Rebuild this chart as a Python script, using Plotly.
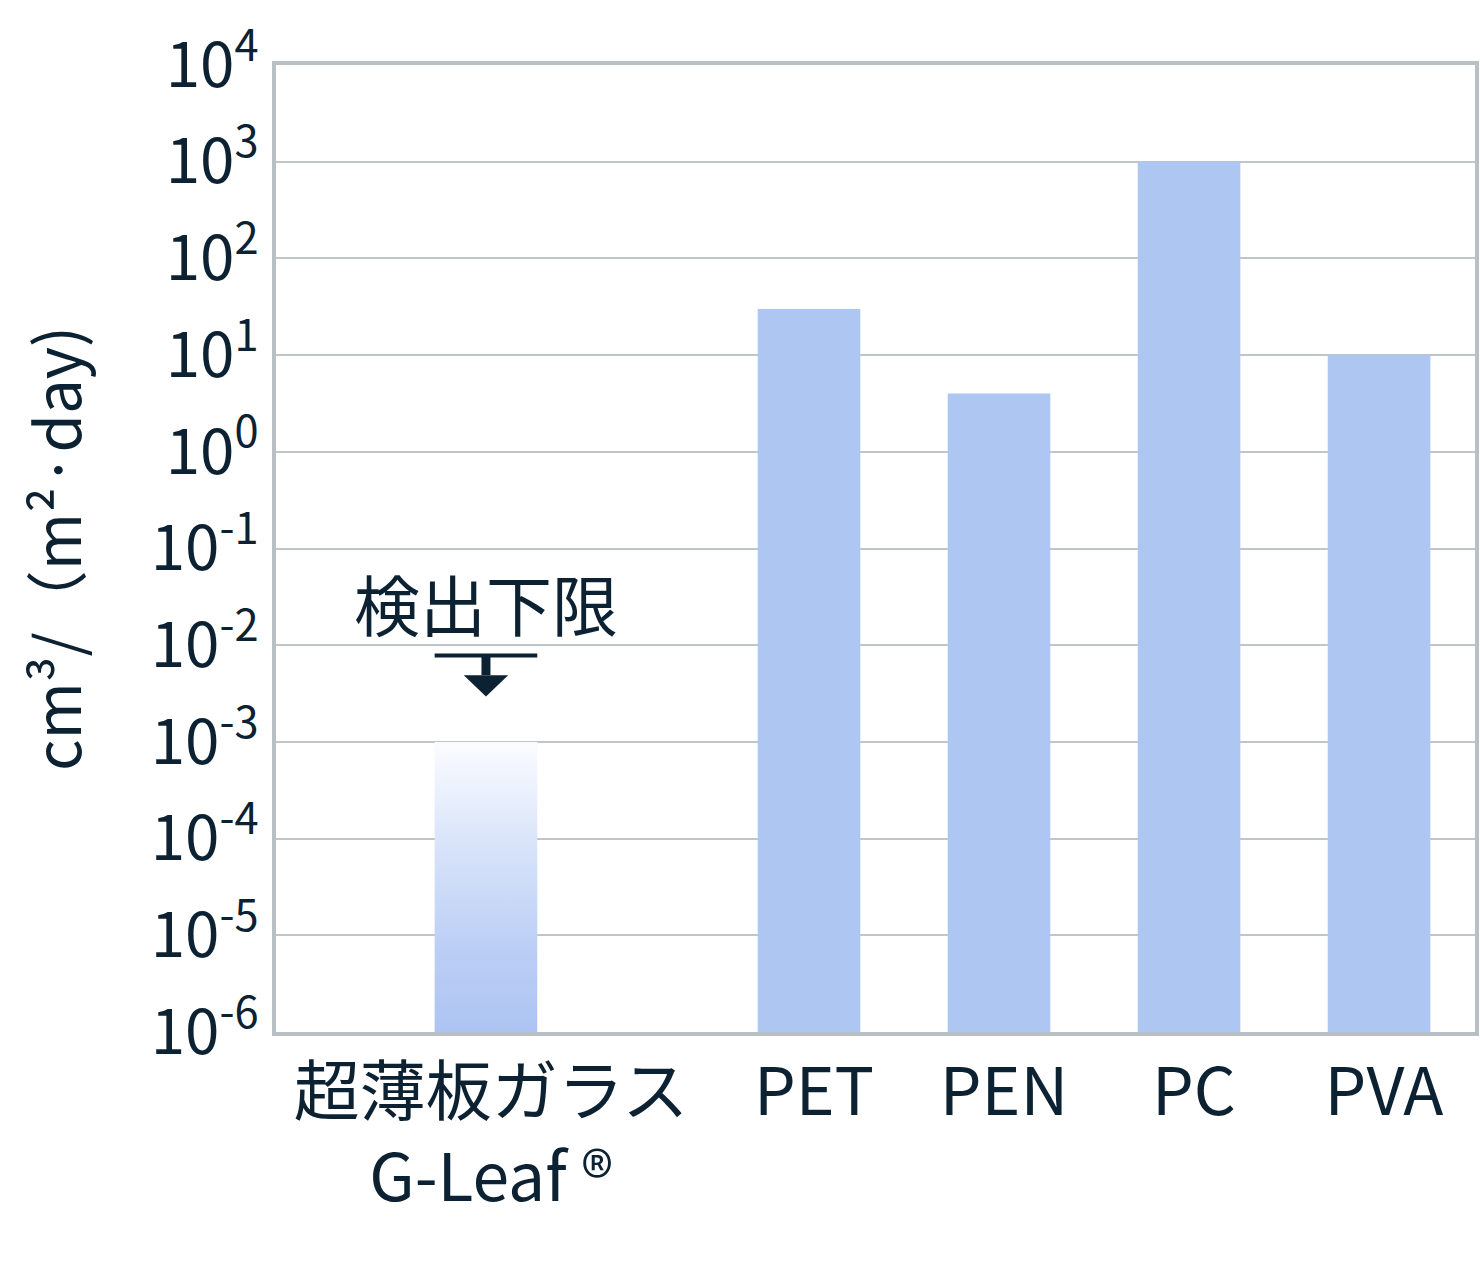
import plotly.graph_objects as go

# data
materials = ["超薄板ガラス<br>G-Leaf ®", "PET", "PEN", "PC", "PVA"]
rates = [None, 30, 4, 1000, 10]          # cm3/(m2·day); glass is below detection
glass_bar_top = 1e-3                     # faded bar for the glass
limit_label = "検出下限"
decades = list(range(-6, 5))

# layout helpers
x_pos = [1.3, 3, 4, 5, 6]
bar_w = 0.54
bar_color = "#aec6f2"
ink = "#0c2131"
grid_color = "#bfc6cb"
frame_color = "#b8bfc5"
font_family = "Noto Sans CJK JP"

fig = go.Figure()

# film bars
fig.add_trace(go.Bar(
    x=x_pos[1:], y=rates[1:], width=bar_w,
    marker=dict(color=bar_color, line=dict(width=0)),
    hoverinfo="skip", showlegend=False,
))

# glass bar, fading towards the top
px0 = x_pos[0]
fig.add_trace(go.Scatter(
    x=[px0 - bar_w / 2, px0 + bar_w / 2, px0 + bar_w / 2, px0 - bar_w / 2, px0 - bar_w / 2],
    y=[10.0 ** decades[0], 10.0 ** decades[0], glass_bar_top, glass_bar_top, 10.0 ** decades[0]],
    mode="lines", fill="toself",
    line=dict(width=0, color="rgba(0,0,0,0)"),
    fillgradient=dict(type="vertical",
                      colorscale=[[0, "#adc4f2"], [0.3, "#bccff5"],
                                  [0.65, "#d9e4fa"], [1, "#fbfcff"]]),
    hoverinfo="skip", showlegend=False,
))

# detection-limit marker: bar, stem and arrow head
lvl = 10 ** -2.107
stem_end = 10 ** -2.31
tip = 10 ** -2.53
fig.add_trace(go.Scatter(
    x=[px0 - bar_w / 2, px0 + bar_w / 2], y=[lvl, lvl], mode="lines",
    line=dict(color=ink, width=4), hoverinfo="skip", showlegend=False,
))
fig.add_trace(go.Scatter(
    x=[px0, px0], y=[lvl, stem_end], mode="lines",
    line=dict(color=ink, width=9), hoverinfo="skip", showlegend=False,
))
fig.add_trace(go.Scatter(
    x=[px0 - 0.117, px0 + 0.117, px0, px0 - 0.117],
    y=[stem_end, stem_end, tip, stem_end], mode="lines", fill="toself",
    fillcolor=ink, line=dict(width=0, color=ink),
    hoverinfo="skip", showlegend=False,
))

fig.add_annotation(
    x=px0, y=-1.55, text=limit_label, showarrow=False,
    font=dict(size=66, color=ink, family=font_family),
    xanchor="center", yanchor="middle",
)

fig.update_layout(
    width=1480, height=1272,
    margin=dict(l=276, r=5, t=65, b=240),
    paper_bgcolor="white", plot_bgcolor="white",
    font=dict(family=font_family, color=ink),
    showlegend=False,
)

fig.update_xaxes(
    range=[0.195, 6.505], automargin=False,
    tickvals=x_pos, ticktext=materials,
    tickfont=dict(size=66, color=ink, family=font_family),
    ticks="", showgrid=False,
    showline=True, mirror=True, linecolor=frame_color, linewidth=4,
    ticklabelstandoff=0, ticklabelshift=5,
)

fig.update_yaxes(
    type="log", range=[decades[0], decades[-1]], automargin=False,
    tickvals=[10.0 ** d for d in decades],
    ticktext=[f"10<sup>{d}</sup>" for d in decades],
    tickfont=dict(size=62, color=ink, family=font_family),
    ticks="", ticklabelstandoff=1,
    showgrid=True, gridcolor=grid_color, gridwidth=2,
    showline=True, mirror=True, linecolor=frame_color, linewidth=4,
    title=dict(text="cm³/（m²·day)", font=dict(size=62, color=ink, family=font_family),
               standoff=50),
)

# drop the default page margin so the figure fills the window exactly
fig.write_html("out.html", config={"displayModeBar": False},
               post_script="document.body.style.margin = '0';")
